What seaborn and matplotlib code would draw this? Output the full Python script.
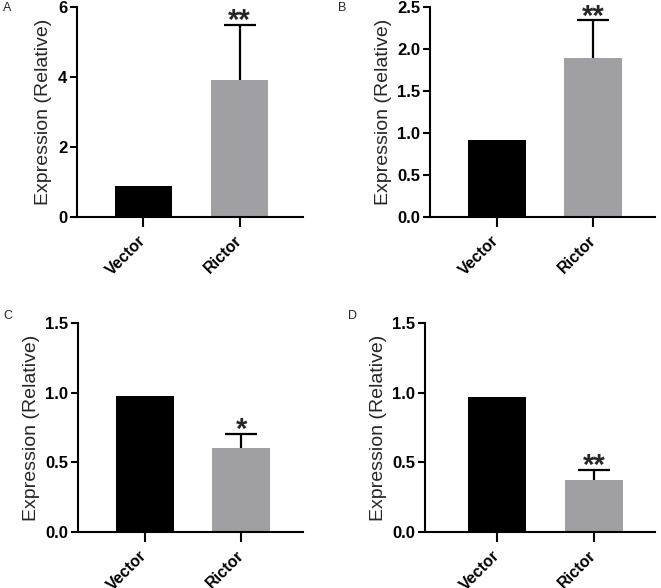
import matplotlib
matplotlib.use("Agg")
import matplotlib.pyplot as plt
import seaborn as sns

sns.set_style("ticks")
plt.rcParams['font.family'] = ['Liberation Sans', 'DejaVu Sans']

categories = ["Vector", "Rictor"]
vals_A = [0.88, 3.92]
vals_B = [0.92, 1.89]
vals_C = [0.975, 0.605]
vals_D = [0.968, 0.375]
err_A = 1.58
err_B = 0.45
err_C = 0.10
err_D = 0.07
stars = ["**", "**", "*", "**"]
panel_letters = ["A", "B", "C", "D"]
yticks_A = [0, 2, 4, 6]
ytick_labels_A = ["0", "2", "4", "6"]
yticks_B = [0.0, 0.5, 1.0, 1.5, 2.0, 2.5]
ytick_labels_B = ["0.0", "0.5", "1.0", "1.5", "2.0", "2.5"]
yticks_CD = [0.0, 0.5, 1.0, 1.5]
ytick_labels_CD = ["0.0", "0.5", "1.0", "1.5"]
ylabel = "Expression (Relative)"
colors = ["#000000", "#A0A0A4"]

W, H = 661, 588
fig = plt.figure(figsize=(W / 100, H / 100), dpi=100)

def px_axes(l, r, t, b):
    return fig.add_axes([l / W, 1 - b / H, (r - l) / W, (b - t) / H])

panels = [
    dict(rect=(77, 303, 7, 217), vals=vals_A, err=err_A, yt=yticks_A, ytl=ytick_labels_A, xlim=(-0.69, 1.66)),
    dict(rect=(430, 655, 7, 217), vals=vals_B, err=err_B, yt=yticks_B, ytl=ytick_labels_B, xlim=(-0.69, 1.64)),
    dict(rect=(78, 303, 323, 532), vals=vals_C, err=err_C, yt=yticks_CD, ytl=ytick_labels_CD, xlim=(-0.69, 1.64)),
    dict(rect=(425, 655, 323, 532), vals=vals_D, err=err_D, yt=yticks_CD, ytl=ytick_labels_CD, xlim=(-0.74, 1.63)),
]
letter_pos = [(3, 8), (338, 8), (3, 316), (348, 316)]

for i, p in enumerate(panels):
    ax = px_axes(*p["rect"])
    sns.barplot(x=categories, y=p["vals"], hue=categories, palette=colors,
                width=0.6, ax=ax, legend=False, linewidth=0, saturation=1)
    eb = ax.errorbar(1, p["vals"][1], yerr=[[0], [p["err"]]], fmt="none",
                     ecolor="black", elinewidth=1.6, capsize=11.5, capthick=1.6)
    eb[1][0].set_visible(False)
    top = p["vals"][1] + p["err"]
    ax.annotate(stars[i], xy=(1, top), xytext=(0, -3), textcoords="offset points",
                ha="center", va="baseline", fontsize=21, fontweight="bold")
    ax.set_ylim(p["yt"][0], p["yt"][-1])
    ax.set_xlim(*p["xlim"])
    ax.set_yticks(p["yt"])
    ax.set_yticklabels(p["ytl"], fontsize=12, fontweight="bold")
    ax.set_xticks([0, 1])
    ax.set_xticklabels(categories, fontsize=11.5, fontweight="bold", rotation=45,
                       ha="right", va="center", rotation_mode="anchor")
    ax.set_ylabel(ylabel, fontsize=14, labelpad=4)
    ax.set_xlabel("")
    sns.despine(ax=ax)
    for s in ["left", "bottom"]:
        ax.spines[s].set_linewidth(1.5)
        ax.spines[s].set_color("black")
    ax.tick_params(axis="y", length=5, width=1.5, pad=2, colors="black")
    ax.tick_params(axis="x", length=7, width=1.5, pad=8, colors="black")
    ax.patch.set_alpha(0)
    lx, ly = letter_pos[i]
    fig.text(lx / W, 1 - ly / H, panel_letters[i], fontsize=9, ha="left", va="center")

fig.savefig("out.png", dpi=100)
